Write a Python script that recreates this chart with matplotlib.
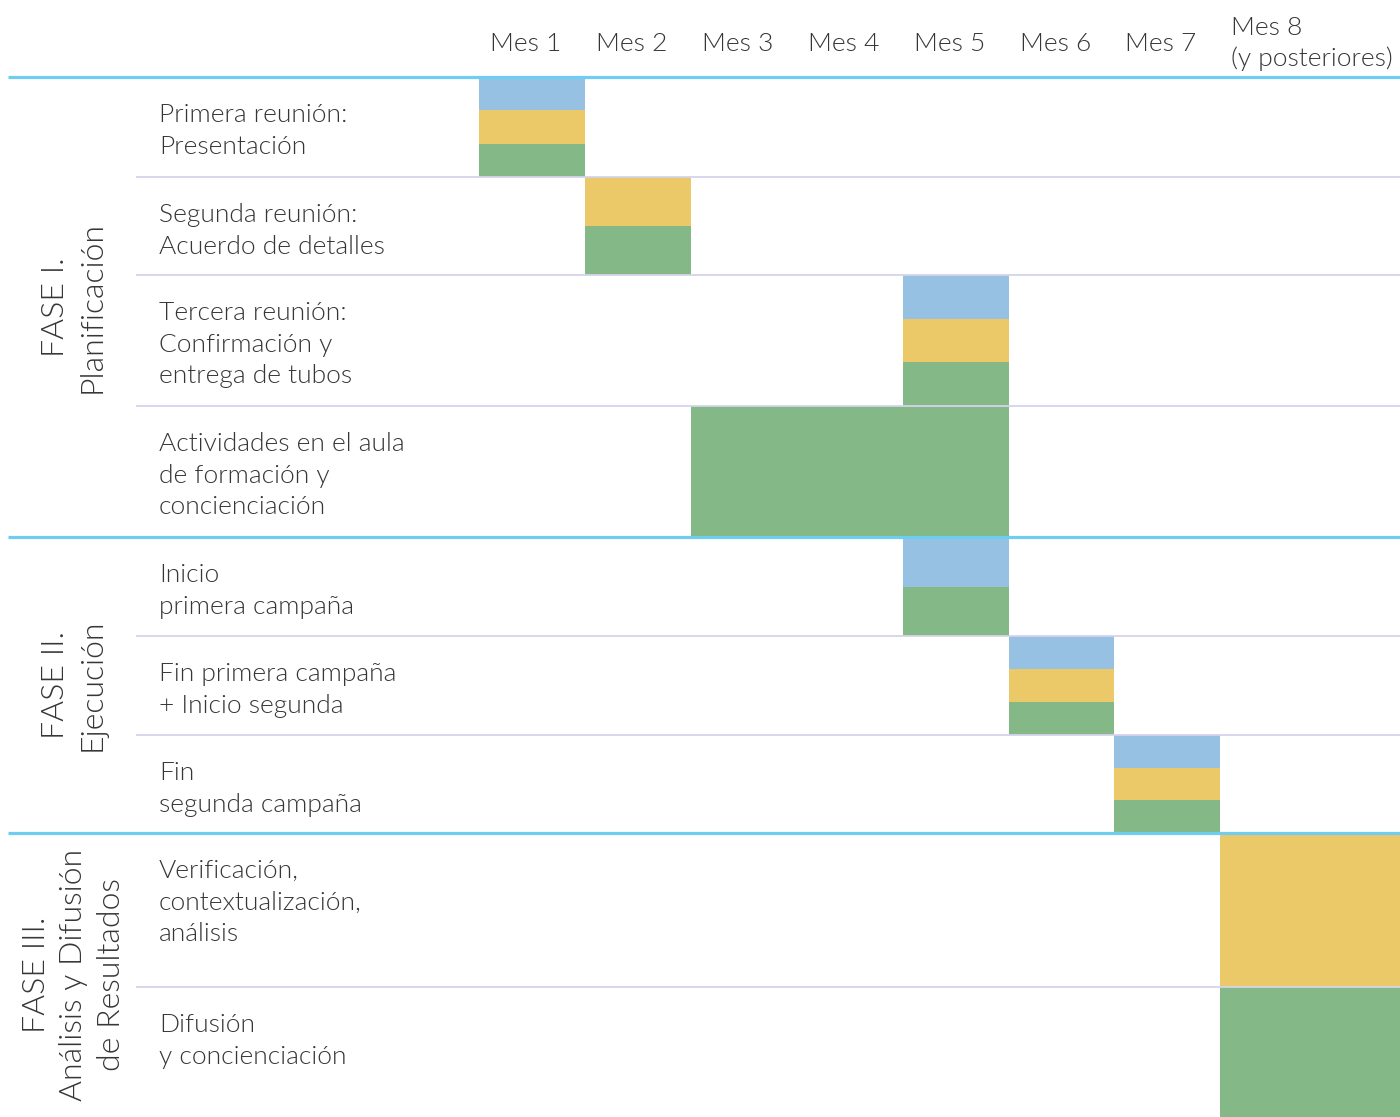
import matplotlib
matplotlib.use("Agg")
import matplotlib.pyplot as plt

# data
months = ["Mes 1", "Mes 2", "Mes 3", "Mes 4", "Mes 5", "Mes 6", "Mes 7",
          "Mes 8\n(y posteriores)"]
tasks = [
    "Primera reunión:\nPresentación",
    "Segunda reunión:\nAcuerdo de detalles",
    "Tercera reunión:\nConfirmación y\nentrega de tubos",
    "Actividades en el aula\nde formación y\nconcienciación",
    "Inicio\nprimera campaña",
    "Fin primera campaña\n+ Inicio segunda",
    "Fin\nsegunda campaña",
    "Verificación,\ncontextualización,\nanálisis",
    "Difusión\ny concienciación",
]
phases = ["FASE I.\nPlanificación", "FASE II.\nEjecución",
          "FASE III.\nAnálisis y Difusión\nde Resultados"]
phase_n_tasks = [4, 3, 2]
task_start = [1, 2, 5, 3, 5, 6, 7, 8, 8]
task_end = [1, 2, 5, 5, 5, 6, 7, 8, 8]
task_layers = [
    ["azul", "amarillo", "verde"],
    ["amarillo", "verde"],
    ["azul", "amarillo", "verde"],
    ["verde"],
    ["azul", "verde"],
    ["azul", "amarillo", "verde"],
    ["azul", "amarillo", "verde"],
    ["amarillo"],
    ["verde"],
]

# layout (pixels)
W, H = 1400, 1117
col_edges = [479, 585, 691, 797, 903, 1009, 1114, 1220, 1400]
row_edges = [77, 177, 275, 406, 537, 636, 735, 833, 987, 1117]
colors = {"azul": "#97c1e3", "amarillo": "#ecc968", "verde": "#84b987"}
text_color = "#363636"
phase_line = "#6fcdf2"
row_line = "#d4d3ea"
font = dict(family=["Lato", "DejaVu Sans"], weight=300, color=text_color)

fig = plt.figure(figsize=(W / 100, H / 100), dpi=100)
ax = fig.add_axes([0, 0, 1, 1])
ax.set_xlim(0, W)
ax.set_ylim(H, 0)
ax.axis("off")

# bars
for i, layers in enumerate(task_layers):
    x0 = col_edges[task_start[i] - 1]
    x1 = col_edges[task_end[i]]
    top, bottom = row_edges[i], row_edges[i + 1]
    h = (bottom - top) / len(layers)
    for k, name in enumerate(layers):
        ax.bar(x0, h, width=x1 - x0, bottom=top + k * h, align="edge",
               color=colors[name], linewidth=0, zorder=1)

# row separators
phase_bounds = [0]
for n in phase_n_tasks:
    phase_bounds.append(phase_bounds[-1] + n)
for i in range(1, len(tasks)):
    if i not in phase_bounds:
        ax.plot([136, W], [row_edges[i], row_edges[i]], color=row_line,
                lw=1.3, zorder=2, solid_capstyle="butt")
for b in phase_bounds[:-1]:
    ax.plot([8, W], [row_edges[b], row_edges[b]], color=phase_line,
            lw=2.3, zorder=3, solid_capstyle="butt")

# header
for j, m in enumerate(months):
    if "\n" in m:
        ax.text(col_edges[j] + 11, 71, m, ha="left", va="bottom",
                fontsize=19, linespacing=1.35, **font)
    else:
        ax.text((col_edges[j] + col_edges[j + 1]) / 2 - 6, 51, m,
                ha="center", va="baseline", fontsize=19, **font)

# task labels, hung from the top of each row
for i, t in enumerate(tasks):
    ax.text(159, row_edges[i] + 26, t, ha="left", va="top",
            fontsize=19, linespacing=1.4, **font)

# phase labels
for p, label in enumerate(phases):
    top = row_edges[phase_bounds[p]]
    bottom = row_edges[phase_bounds[p + 1]]
    ax.text(74, (top + bottom) / 2, label, ha="center", va="center",
            rotation=90, rotation_mode="anchor", multialignment="center",
            fontsize=23, linespacing=1.35, **font)

fig.savefig("out.png", dpi=100)
